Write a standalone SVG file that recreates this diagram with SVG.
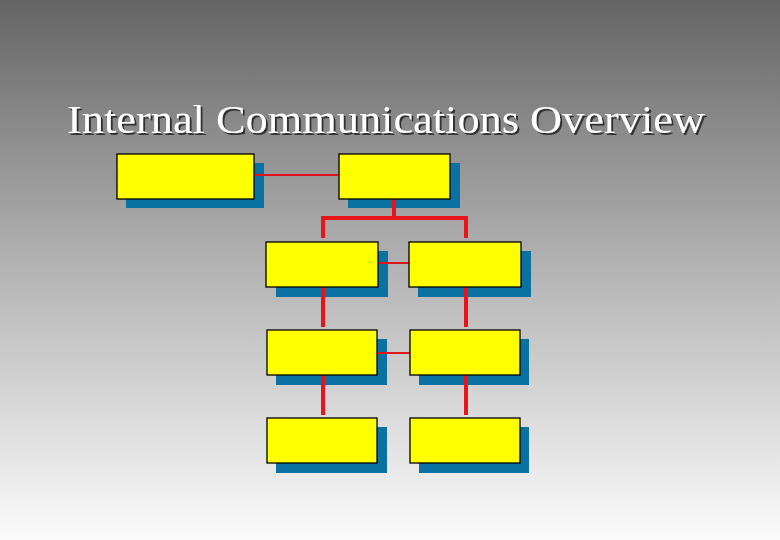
<svg xmlns="http://www.w3.org/2000/svg" width="780" height="540" viewBox="0 0 780 540">
<defs>
<linearGradient id="bg" x1="0" y1="0" x2="0" y2="1">
<stop offset="0" stop-color="#656565"/>
<stop offset="0.5" stop-color="#b4b4b4"/>
<stop offset="1" stop-color="#fbfbfb"/>
</linearGradient>
<filter id="ts" x="-5%" y="-30%" width="110%" height="160%">
<feDropShadow dx="2" dy="2" stdDeviation="0.6" flood-color="#2a2a2a" flood-opacity="0.9"/>
</filter>
<style>
.shadow{fill:#0a72a3}
.box{fill:#ffff00;stroke:#000;stroke-width:1.3}
.thick{stroke:#e8141a;stroke-width:4;fill:none}
.thin{stroke:#e01418;stroke-width:2;fill:none}
.title{font-family:"Liberation Serif","Times New Roman",serif;font-size:40px}
</style>
</defs>
<rect width="780" height="540" fill="url(#bg)"/>
<g id="title">
<text class="title" x="67" y="133" fill="#fff" filter="url(#ts)" textLength="638" lengthAdjust="spacingAndGlyphs">Internal Communications Overview</text>
</g>
<g id="shadows">
<rect class="shadow" x="126" y="163" width="138" height="45"/>
<rect class="shadow" x="348" y="163" width="112" height="45"/>
<rect class="shadow" x="276" y="251" width="112" height="46"/>
<rect class="shadow" x="418" y="251" width="113" height="46"/>
<rect class="shadow" x="276" y="339" width="111" height="46"/>
<rect class="shadow" x="419" y="339" width="110" height="46"/>
<rect class="shadow" x="276" y="427" width="111" height="46"/>
<rect class="shadow" x="419" y="427" width="110" height="46"/>
</g>
<g id="connectors">
<line class="thin" x1="254" y1="175" x2="339" y2="175"/>
<polyline class="thick" points="394,199 394,218"/>
<polyline class="thick" points="323,238 323,218 466,218 466,238"/>
<line class="thin" x1="378" y1="263" x2="409" y2="263"/>
<line class="thick" x1="323" y1="287" x2="323" y2="327"/>
<line class="thick" x1="466" y1="287" x2="466" y2="327"/>
<line class="thin" x1="377" y1="353" x2="410" y2="353"/>
<line class="thick" x1="323" y1="375" x2="323" y2="415"/>
<line class="thick" x1="466" y1="375" x2="466" y2="415"/>
</g>
<g id="node-a"><rect class="box" x="117" y="154" width="137" height="45"/></g>
<g id="node-b"><rect class="box" x="339" y="154" width="111" height="45"/></g>
<g id="node-c"><rect class="box" x="266" y="242" width="112" height="45"/></g>
<g id="node-d"><rect class="box" x="409" y="242" width="112" height="45"/></g>
<g id="node-e"><rect class="box" x="267" y="330" width="110" height="45"/></g>
<g id="node-f"><rect class="box" x="410" y="330" width="110" height="45"/></g>
<g id="node-g"><rect class="box" x="267" y="418" width="110" height="45"/></g>
<g id="node-h"><rect class="box" x="410" y="418" width="110" height="45"/></g>
</svg>
